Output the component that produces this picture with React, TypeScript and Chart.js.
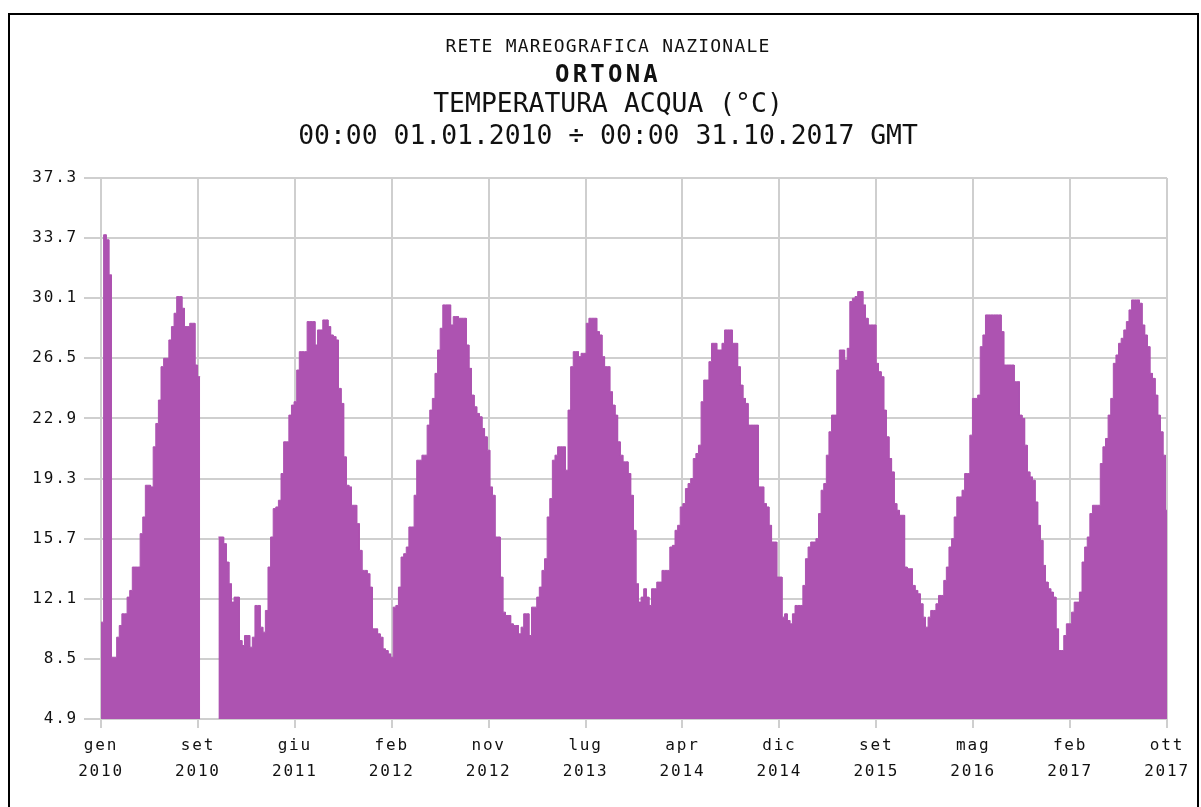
import React, { useEffect, useRef } from "react";
import { Chart, registerables } from "chart.js";

Chart.register(...registerables);

// Weekly mean sea-water temperature (°C), one value per week starting 01.01.2010 (null = no data)
const weeklyTemp: (number | null)[] = [
  10.7, 33.9, 33.6, 31.5, 8.6, 8.6, 9.8, 10.5, 11.2, 11.2,
  12.2, 12.6, 14.0, 14.0, 14.0, 16.0, 17.0, 18.9, 18.9, 18.8,
  21.2, 22.6, 24.0, 26.0, 26.5, 26.5, 27.6, 28.4, 29.2, 30.2,
  30.2, 29.5, 28.4, 28.4, 28.6, 28.6, 26.1, 25.4, null, null,
  null, null, null, null, null, 15.8, 15.8, 15.4, 14.3, 13.0,
  11.9, 12.2, 12.2, 9.6, 9.3, 9.9, 9.9, 9.2, 9.8, 11.7,
  11.7, 10.4, 10.1, 11.4, 14.0, 15.8, 17.5, 17.6, 18.0, 19.6,
  21.5, 21.5, 23.1, 23.7, 23.9, 25.8, 26.9, 26.9, 26.9, 28.7,
  28.7, 28.7, 27.3, 28.2, 28.2, 28.8, 28.8, 28.4, 27.9, 27.8,
  27.6, 24.7, 23.8, 20.6, 18.9, 18.8, 17.7, 17.7, 16.6, 15.0,
  13.8, 13.8, 13.6, 12.8, 10.3, 10.3, 10.0, 9.8, 9.1, 9.0,
  8.8, 8.6, 11.6, 11.7, 12.8, 14.6, 14.8, 15.2, 16.4, 16.4,
  18.3, 20.4, 20.4, 20.7, 20.7, 22.5, 23.4, 24.1, 25.6, 27.0,
  28.3, 29.7, 29.7, 29.7, 28.5, 29.0, 29.0, 28.9, 28.9, 28.9,
  27.3, 25.9, 24.3, 23.6, 23.2, 23.0, 22.3, 21.8, 21.0, 18.8,
  18.3, 15.8, 15.8, 13.4, 11.3, 11.1, 11.1, 10.6, 10.5, 10.5,
  10.0, 10.4, 11.2, 11.2, 9.9, 11.6, 11.6, 12.2, 12.8, 13.8,
  14.5, 17.0, 18.1, 20.4, 20.7, 21.2, 21.2, 21.2, 19.8, 23.4,
  26.0, 26.9, 26.9, 26.6, 26.8, 26.8, 28.6, 28.9, 28.9, 28.9,
  28.1, 27.9, 26.6, 26.0, 26.0, 24.5, 23.7, 23.1, 21.5, 20.7,
  20.3, 20.3, 19.6, 18.3, 16.2, 13.0, 11.9, 12.2, 12.7, 12.2,
  11.7, 12.7, 12.7, 13.1, 13.1, 13.8, 13.8, 13.8, 15.2, 15.3,
  16.2, 16.5, 17.6, 17.8, 18.7, 19.0, 19.3, 20.5, 20.8, 21.3,
  23.9, 25.2, 25.2, 26.3, 27.4, 27.4, 27.0, 27.0, 27.4, 28.2,
  28.2, 28.2, 27.4, 27.4, 26.0, 24.9, 24.1, 23.8, 22.5, 22.5,
  22.5, 22.5, 18.8, 18.8, 17.8, 17.6, 16.5, 15.5, 15.5, 13.4,
  13.4, 11.0, 11.2, 10.8, 10.6, 11.2, 11.7, 11.7, 11.7, 12.9,
  14.5, 15.2, 15.5, 15.5, 15.7, 17.2, 18.6, 19.0, 20.7, 22.1,
  23.1, 23.1, 25.8, 27.0, 27.0, 26.4, 27.1, 29.9, 30.1, 30.2,
  30.5, 30.5, 29.7, 28.9, 28.5, 28.5, 28.5, 26.2, 25.7, 25.4,
  23.4, 21.8, 20.5, 19.7, 17.8, 17.4, 17.1, 17.1, 14.0, 13.9,
  13.9, 12.9, 12.6, 12.4, 11.8, 11.0, 10.4, 11.0, 11.4, 11.4,
  11.8, 12.3, 12.3, 13.2, 14.0, 15.2, 15.7, 17.0, 18.2, 18.2,
  18.6, 19.6, 19.6, 21.9, 24.1, 24.1, 24.3, 27.2, 27.9, 29.1,
  29.1, 29.1, 29.1, 29.1, 29.1, 28.1, 26.1, 26.1, 26.1, 26.1,
  25.1, 25.1, 23.1, 22.9, 21.3, 19.7, 19.4, 19.2, 17.9, 16.5,
  15.6, 14.1, 13.1, 12.7, 12.5, 12.2, 10.3, 9.0, 9.0, 9.9,
  10.6, 10.6, 11.3, 11.9, 11.9, 12.5, 14.3, 15.2, 15.8, 17.2,
  17.7, 17.7, 17.7, 20.2, 21.2, 21.7, 23.1, 24.1, 26.2, 26.7,
  27.4, 27.7, 28.2, 28.7, 29.4, 30.0, 30.0, 30.0, 29.8, 28.5,
  27.9, 27.2, 25.6, 25.3, 24.3, 23.1, 22.1, 20.7, 17.4,
];

const daysPerValue = 7;
const totalDays = 2860; // 01.01.2010 -> 31.10.2017

const tickMonths = ["gen", "set", "giu", "feb", "nov", "lug", "apr", "dic", "set", "mag", "feb", "ott"];
const tickYears = ["2010", "2010", "2011", "2012", "2012", "2013", "2014", "2014", "2015", "2016", "2017", "2017"];
const yTickValues = [4.9, 8.5, 12.1, 15.7, 19.3, 22.9, 26.5, 30.1, 33.7, 37.3];

const titleLines = [
  "RETE MAREOGRAFICA NAZIONALE",
  "ORTONA",
  "TEMPERATURA ACQUA (°C)",
  "00:00 01.01.2010 ÷ 00:00 31.10.2017 GMT",
];

const FILL = "#ad53b1";
const GRID = "#cfcfcf";
const MONO = "'DejaVu Sans Mono', 'Liberation Mono', monospace";

export default function App() {
  const canvasRef = useRef<HTMLCanvasElement | null>(null);

  useEffect(() => {
    const canvas = canvasRef.current;
    if (!canvas) return;

    // Step table: each weekly value spans [start, start + 7 days)
    const points: { x: number; y: number | null }[] = [];
    weeklyTemp.forEach((v, i) => {
      const x0 = i * daysPerValue;
      if (v === null) {
        points.push({ x: x0, y: null });
      } else {
        points.push({ x: x0, y: v }, { x: x0 + daysPerValue, y: v });
      }
    });

    const nTicks = tickMonths.length;
    const xTickValues = tickMonths.map((_, i) => (i * totalDays) / (nTicks - 1));

    const titlePlugin = {
      id: "titleLines",
      beforeDraw(chart: any) {
        chart.ctx.letterSpacing = "1.8px";
      },
      beforeDatasetsDraw(chart: any) {
        chart.ctx.letterSpacing = "0px";
      },
      afterDraw(chart: any) {
        const ctx = chart.ctx as CanvasRenderingContext2D;
        const specs = [
          { text: titleLines[0], font: `18px ${MONO}`, y: 47, sp: "1.2px" },
          { text: titleLines[1], font: `bold 24px ${MONO}`, y: 76, sp: "3.2px" },
          { text: titleLines[2], font: `26.4px ${MONO}`, y: 105, sp: "0px" },
          { text: titleLines[3], font: `26.4px ${MONO}`, y: 137, sp: "0px" },
        ];
        ctx.save();
        ctx.fillStyle = "#111";
        ctx.textAlign = "center";
        ctx.textBaseline = "middle";
        specs.forEach((s) => {
          (ctx as any).letterSpacing = s.sp;
          ctx.font = s.font;
          ctx.fillText(s.text, 608, s.y);
        });
        ctx.restore();
      },
    };

    const chart = new Chart(canvas, {
      type: "line",
      data: {
        datasets: [
          {
            data: points as any,
            borderColor: FILL,
            borderWidth: 1,
            backgroundColor: FILL,
            fill: "start",
            pointRadius: 0,
            pointHoverRadius: 0,
            tension: 0,
            spanGaps: false,
          },
        ],
      },
      options: {
        responsive: false,
        animation: false,
        events: [],
        layout: { padding: { top: 178, right: 34, left: 0, bottom: 0 } },
        plugins: {
          legend: { display: false },
          tooltip: { enabled: false },
          title: { display: false },
        },
        scales: {
          x: {
            type: "linear",
            min: 0,
            max: totalDays,
            afterBuildTicks: (scale: any) => {
              scale.ticks = xTickValues.map((v) => ({ value: v }));
            },
            afterFit: (scale: any) => {
              scale.height = 88;
            },
            border: { display: false },
            grid: {
              color: GRID,
              lineWidth: 2,
              tickLength: 9,
              drawTicks: true,
            },
            ticks: {
              autoSkip: false,
              maxRotation: 0,
              minRotation: 0,
              padding: 5,
              color: "#111",
              font: { family: MONO, size: 16, lineHeight: 1.6 },
              callback: (_v: any, i: number) => [tickMonths[i], tickYears[i]],
            },
          },
          y: {
            type: "linear",
            min: 4.9,
            max: 37.3,
            afterBuildTicks: (scale: any) => {
              scale.ticks = yTickValues.map((v) => ({ value: v }));
            },
            afterFit: (scale: any) => {
              scale.width = 101;
            },
            border: { display: false },
            grid: {
              color: GRID,
              lineWidth: 2,
              tickLength: 17,
              drawTicks: true,
            },
            ticks: {
              autoSkip: false,
              padding: 6,
              color: "#111",
              font: { family: MONO, size: 16 },
              callback: (v: any) => Number(v).toFixed(1),
            },
          },
        },
      },
      plugins: [titlePlugin],
    });

    return () => {
      chart.destroy();
    };
  }, []);

  return (
    <div
      style={{
        position: "fixed",
        left: 0,
        top: 0,
        width: 1201,
        height: 807,
        background: "#fff",
        overflow: "hidden",
      }}
    >
      <div
        style={{
          position: "absolute",
          left: 8,
          top: 13,
          width: 1187,
          height: 900,
          border: "2px solid #000",
          borderBottom: "none",
        }}
      />
      <canvas
        ref={canvasRef}
        width={1201}
        height={807}
        style={{ position: "absolute", left: 0, top: 0, display: "block" }}
      />
    </div>
  );
}
